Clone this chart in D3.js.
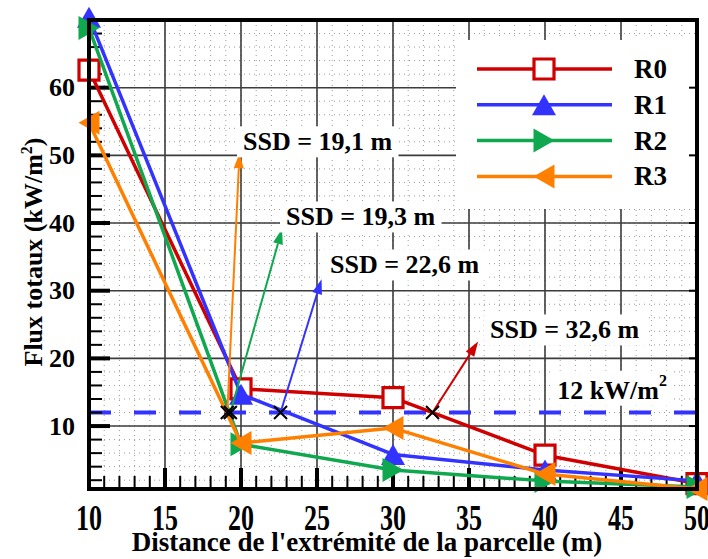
<!DOCTYPE html>
<html>
<head>
<meta charset="utf-8">
<script src="https://cdn.jsdelivr.net/npm/d3@7"></script>
<style>
  body { margin: 0; background: #fff; }
  svg { display: block; }
  svg text { font-family: "Liberation Serif", "Times New Roman", Tinos, "DejaVu Serif", serif; font-weight: 700; fill: #000; }
</style>
</head>
<body>
<svg id="chart" width="708" height="559" font-family="Liberation Serif, Times New Roman, serif"></svg>
<script>
// Total heat flux versus distance from the edge of the plot, four configurations
const distances = [10, 20, 30, 40, 50];
const seriesNames = ["R0", "R1", "R2", "R3"];
const fluxR0 = [62.6, 15.5, 14.2, 5.7, 1.5];
const fluxR1 = [70.4, 14.7, 5.8, 3.5, 1.9];
const fluxR2 = [68.8, 7.3, 3.5, 1.9, 1.0];
const fluxR3 = [54.8, 7.5, 9.7, 2.9, 0.7];
const threshold = 12;
const thresholdLabel = "12 kW/m";
const ssdValues = [19.1, 19.3, 22.6, 32.6];
const ssdLabels = ["SSD = 19,1 m", "SSD = 19,3 m", "SSD = 22,6 m", "SSD = 32,6 m"];
const xTicks = [10, 15, 20, 25, 30, 35, 40, 45, 50];
const yTicks = [10, 20, 30, 40, 50, 60];

// Annotation layout (data units): arrow tips and label anchors
const ssdArrowTips = [[19.9, 50.3], [22.7, 39.1], [25.3, 31.7], [35.6, 22.5]];
const ssdLabelAnchors = [[20.13, 52.0], [22.96, 40.9], [25.86, 33.8], [36.38, 24.2]];
const thresholdLabelAnchor = [40.8, 15.3];

const seriesColors = ["#d10000", "#3333ff", "#0fa84e", "#ff8000"];
const ssdColors = ["#ff8000", "#0fa84e", "#3333ff", "#d10000"];
const markerTypes = ["square", "up", "right", "left"];

const series = seriesNames.map((name, i) => ({
  name,
  color: seriesColors[i],
  marker: markerTypes[i],
  values: [fluxR0, fluxR1, fluxR2, fluxR3][i].map((v, j) => ({ x: distances[j], y: v }))
}));

const L = 89, R = 697, T = 20, B = 489;
const x = d3.scaleLinear().domain([10, 50]).range([L, R]);
const y = d3.scaleLinear().domain([0.7, 70]).range([B, T]);

const svg = d3.select("#chart");

// Fine dotted grid
const gMinor = svg.append("g");
gMinor.selectAll("line.vx").data(d3.range(11, 50, 1)).join("line")
  .attr("x1", d => x(d)).attr("x2", d => x(d)).attr("y1", T).attr("y2", B)
  .attr("stroke", "#9a9a9a").attr("stroke-width", 1).attr("stroke-dasharray", "1,4");
gMinor.selectAll("line.hy").data(d3.range(2, 70, 2)).join("line")
  .attr("y1", d => y(d)).attr("y2", d => y(d)).attr("x1", L).attr("x2", R)
  .attr("stroke", "#9a9a9a").attr("stroke-width", 1).attr("stroke-dasharray", "1,4");

// Major grid
const gMajor = svg.append("g");
gMajor.selectAll("line.gx").data(xTicks.slice(1, -1)).join("line")
  .attr("x1", d => x(d)).attr("x2", d => x(d)).attr("y1", T).attr("y2", B)
  .attr("stroke", "#3c3c3c").attr("stroke-width", 1.6);
gMajor.selectAll("line.gy").data(yTicks).join("line")
  .attr("y1", d => y(d)).attr("y2", d => y(d)).attr("x1", L).attr("x2", R)
  .attr("stroke", "#3c3c3c").attr("stroke-width", 1.6);

// Legend background
svg.append("rect").attr("x", 456).attr("y", 40).attr("width", R - 456).attr("height", 169).attr("fill", "#fff");

// Threshold line
svg.append("line")
  .attr("x1", L).attr("x2", R).attr("y1", y(threshold)).attr("y2", y(threshold))
  .attr("stroke", "#3333ff").attr("stroke-width", 4).attr("stroke-dasharray", "22,23");

// Axis ticks
const gTicks = svg.append("g").attr("stroke", "#000");
gTicks.selectAll("line.mx").data(d3.range(11, 50, 1).filter(d => d % 5 !== 0)).join("line")
  .attr("x1", d => x(d)).attr("x2", d => x(d)).attr("y1", B).attr("y2", B - 13).attr("stroke-width", 2);
gTicks.selectAll("line.Mx").data(xTicks).join("line")
  .attr("x1", d => x(d)).attr("x2", d => x(d)).attr("y1", B).attr("y2", B - 21).attr("stroke-width", 4);
gTicks.selectAll("line.my").data(d3.range(2, 70, 2).filter(d => d % 10 !== 0)).join("line")
  .attr("y1", d => y(d)).attr("y2", d => y(d)).attr("x1", L).attr("x2", L + 13).attr("stroke-width", 2);
gTicks.selectAll("line.My").data(yTicks).join("line")
  .attr("y1", d => y(d)).attr("y2", d => y(d)).attr("x1", L).attr("x2", L + 21).attr("stroke-width", 4);
gTicks.selectAll("line.Ry").data(yTicks).join("line")
  .attr("y1", d => y(d)).attr("y2", d => y(d)).attr("x1", R).attr("x2", R - 8).attr("stroke-width", 2);

// Marker shapes
function markerPath(type, w, h) {
  const a = w / 2, b = h / 2;
  if (type === "square") return `M${-a},${-a}H${a}V${a}H${-a}Z`;
  if (type === "up") return `M0,${-b}L${a},${b}L${-a},${b}Z`;
  if (type === "right") return `M${b},0L${-b},${-a}L${-b},${a}Z`;
  return `M${-b},0L${b},${-a}L${b},${a}Z`;
}
function drawMarker(g, s, cx, cy) {
  const p = g.append("path").attr("transform", `translate(${cx},${cy})`);
  if (s.marker === "square") {
    p.attr("d", markerPath("square", 20)).attr("fill", "#fff").attr("stroke", s.color).attr("stroke-width", 3.2);
  } else {
    p.attr("d", markerPath(s.marker, 24, 21)).attr("fill", s.color);
  }
}

// Data series
const line = d3.line().x(d => x(d.x)).y(d => y(d.y));
const gData = svg.append("g");
series.forEach(s => {
  gData.append("path").datum(s.values).attr("d", line)
    .attr("fill", "none").attr("stroke", s.color).attr("stroke-width", 3.5).attr("stroke-linejoin", "round");
  s.values.forEach(v => drawMarker(gData, s, x(v.x), y(v.y)));
});

// SSD arrows and crossing marks
const gAnn = svg.append("g");
ssdValues.forEach((v, i) => {
  const x0 = x(v), y0 = y(threshold);
  const x1 = x(ssdArrowTips[i][0]), y1 = y(ssdArrowTips[i][1]);
  const ang = Math.atan2(y1 - y0, x1 - x0);
  const len = 15, half = 5;
  const bx = x1 - len * Math.cos(ang), by = y1 - len * Math.sin(ang);
  gAnn.append("line").attr("x1", x0).attr("y1", y0).attr("x2", bx).attr("y2", by)
    .attr("stroke", ssdColors[i]).attr("stroke-width", 2);
  const px = -Math.sin(ang) * half, py = Math.cos(ang) * half;
  gAnn.append("path")
    .attr("d", `M${x1},${y1}L${bx + px},${by + py}L${bx - px},${by - py}Z`)
    .attr("fill", ssdColors[i]);
});
ssdValues.forEach(v => {
  const cx = x(v), cy = y(threshold), r = 6.5;
  gAnn.append("path")
    .attr("d", `M${cx - r},${cy - r}L${cx + r},${cy + r}M${cx + r},${cy - r}L${cx - r},${cy + r}`)
    .attr("stroke", "#000").attr("stroke-width", 2);
});

// Labels with white boxes
function boxedLabel(tx, ty, build) {
  const g = svg.append("g");
  const rect = g.append("rect").attr("fill", "#fff");
  const t = g.append("text").attr("x", tx).attr("y", ty).attr("dominant-baseline", "central").attr("font-size", 26);
  build(t);
  const bb = t.node().getBBox();
  rect.attr("x", bb.x - 6).attr("y", bb.y - 1).attr("width", bb.width + 12).attr("height", bb.height + 2);
}
ssdLabels.forEach((lab, i) => {
  boxedLabel(x(ssdLabelAnchors[i][0]), y(ssdLabelAnchors[i][1]), t => t.text(lab));
});
boxedLabel(x(thresholdLabelAnchor[0]), y(thresholdLabelAnchor[1]), t => {
  t.append("tspan").text(thresholdLabel);
  t.append("tspan").attr("font-size", 16).attr("dy", -10).text("2");
});

// Legend
series.forEach((s, i) => {
  const ly = 69 + i * 35.8;
  svg.append("line").attr("x1", 477).attr("x2", 612).attr("y1", ly).attr("y2", ly)
    .attr("stroke", s.color).attr("stroke-width", 3.5);
  drawMarker(svg, s, 544, ly);
  svg.append("text").attr("x", 634).attr("y", ly).attr("dominant-baseline", "central")
    .attr("font-size", 27).text(s.name);
});

// Frame
svg.append("rect").attr("x", L).attr("y", T).attr("width", R - L).attr("height", B - T)
  .attr("fill", "none").attr("stroke", "#000").attr("stroke-width", 4);

// Tick labels
svg.append("g").selectAll("text").data(yTicks).join("text")
  .attr("x", 75).attr("y", d => y(d)).attr("text-anchor", "end").attr("dominant-baseline", "central")
  .attr("font-size", 26).text(d => d);
svg.append("g").selectAll("g").data(xTicks).join("g")
  .attr("transform", d => `translate(${x(d)},530) scale(1,1.4)`)
  .append("text").attr("text-anchor", "middle").attr("font-size", 26).text(d => d);

// Axis titles
svg.append("text").attr("x", 367).attr("y", 551).attr("text-anchor", "middle")
  .attr("font-size", 27).text("Distance de l'extrémité de la parcelle (m)");
const yt = svg.append("text").attr("transform", "translate(42,252) rotate(-90)")
  .attr("text-anchor", "middle").attr("font-size", 26);
yt.append("tspan").text("Flux totaux (kW/m");
yt.append("tspan").attr("font-size", 16).attr("dy", -10).text("2");
yt.append("tspan").attr("dy", 10).text(")");
</script>
</body>
</html>
